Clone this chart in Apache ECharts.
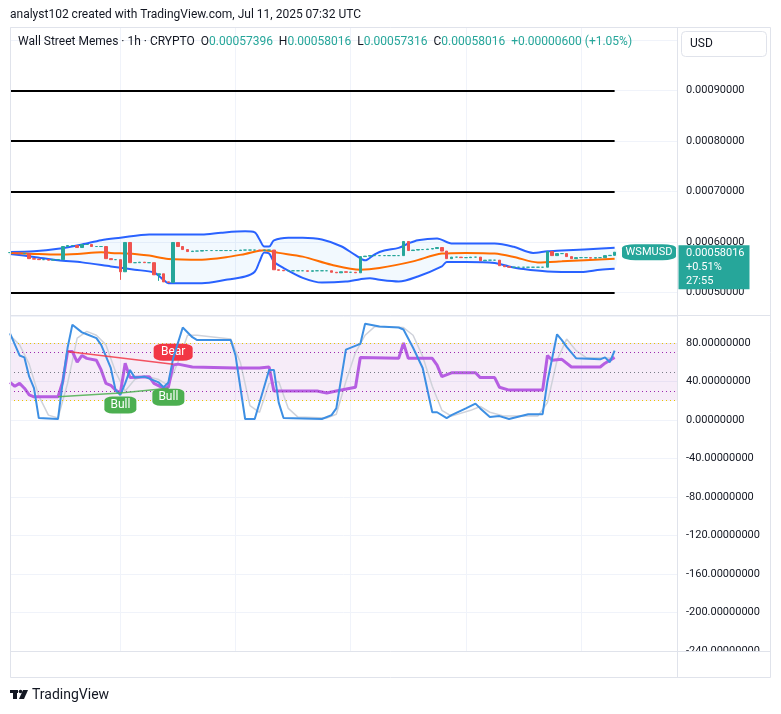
<!DOCTYPE html>
<html>
<head>
<meta charset="utf-8">
<script src="https://cdn.jsdelivr.net/npm/echarts@6/dist/echarts.min.js"></script>
<style>
  html, body { margin: 0; padding: 0; background: #fff; }
  #chart { width: 781px; height: 714px; }
</style>
</head>
<body>
<div id="chart"></div>
<script>
// hourly bars, WSM/USD, Jul 6 01:00 -> Jul 11 07:00
const closes = [
  0.0005794, 0.0005784, 0.0005774, 0.0005774, 0.0005674, 0.0005664, 0.0005654, 0.0005654, 0.0005644, 0.0005654,
  0.0005654, 0.0005914, 0.0005934, 0.0005934, 0.0005894, 0.0005954, 0.0005954, 0.0005914, 0.0005914, 0.0005914,
  0.0005674, 0.0005654, 0.0005654, 0.0005414, 0.0005994, 0.0005594, 0.0005594, 0.0005604, 0.0005594, 0.0005594,
  0.0005354, 0.0005374, 0.0005214, 0.0005204, 0.0005994, 0.0005914, 0.0005854, 0.0005814, 0.0005824, 0.0005824,
  0.0005834, 0.0005834, 0.0005834, 0.0005834, 0.0005834, 0.0005834, 0.0005834, 0.0005834, 0.0005844, 0.0005844,
  0.0005844, 0.0005844, 0.0005834, 0.0005844, 0.0005844, 0.0005454, 0.0005444, 0.0005434, 0.0005434, 0.0005434,
  0.0005434, 0.0005434, 0.0005424, 0.0005434, 0.0005434, 0.0005434, 0.0005434, 0.0005404, 0.0005394, 0.0005414,
  0.0005404, 0.0005404, 0.0005394, 0.0005714, 0.0005724, 0.0005734, 0.0005734, 0.0005734, 0.0005734, 0.0005734,
  0.0005734, 0.0005734, 0.0006014, 0.0005834, 0.0005844, 0.0005854, 0.0005854, 0.0005864, 0.0005874, 0.0005894,
  0.0005824, 0.0005674, 0.0005704, 0.0005704, 0.0005694, 0.0005694, 0.0005704, 0.0005704, 0.0005634, 0.0005644,
  0.0005644, 0.0005644, 0.0005534, 0.0005514, 0.0005504, 0.0005504, 0.0005504, 0.0005504, 0.0005504, 0.0005504,
  0.0005504, 0.0005504, 0.0005814, 0.0005734, 0.0005774, 0.0005774, 0.0005714, 0.0005674, 0.0005694, 0.0005694,
  0.0005694, 0.0005684, 0.0005694, 0.0005694, 0.0005734, 0.00057396, 0.00058016
];
const firstOpen = 0.0005794;
const wickIdx = [23, 31, 126];
const wickLow = [0.0005254, 0.0005234, 0.00057316];
const lastClose = 0.00058016;

// bollinger bands, [bar, price]
const bbUpper = [[0,0.0005808],[5,0.000582],[10,0.0005868],[15,0.0005954],[19,0.000604],[23,0.0006088],[29,0.0006154],
  [33,0.0006154],[40,0.0006154],[44,0.0006188],[49,0.0006214],[51,0.0006194],[52,0.0006054],[53,0.0005914],[54,0.0005914],
  [55,0.0006034],[58,0.0006088],[61,0.0006088],[65,0.0006054],[69,0.000592],[72,0.0005744],[74,0.000564],[76,0.000576],
  [78,0.0005834],[81,0.0005888],[83,0.0005974],[85,0.000604],[89,0.0006074],[92,0.0005974],[95,0.0005974],[101,0.0005974],
  [105,0.0005908],[109,0.0005788],[112,0.000582],[115,0.0005834],[126,0.0005888]];
const bbLower = [[0,0.0005768],[5,0.0005708],[10,0.000564],[15,0.00056],[21,0.000552],[26,0.0005454],[30,0.00054],
  [32,0.0005254],[33,0.0005188],[40,0.0005188],[45,0.0005254],[49,0.000532],[51,0.0005414],[52,0.0005614],[53,0.0005794],
  [54,0.0005774],[55,0.0005614],[57,0.0005488],[61,0.0005294],[65,0.00052],[70,0.000522],[73,0.0005268],[75,0.0005288],
  [77,0.0005254],[81,0.000522],[85,0.000532],[90,0.000552],[91,0.0005608],[95,0.0005608],[101,0.0005588],[104,0.000552],
  [107,0.0005468],[112,0.000542],[119,0.0005408],[123,0.0005454],[126,0.0005474]];
const bbMid = [[0,0.0005788],[5,0.0005768],[10,0.0005754],[14,0.0005768],[19,0.00058],[21,0.0005788],[26,0.0005768],
  [29,0.0005734],[33,0.0005668],[40,0.0005654],[45,0.00057],[49,0.0005768],[53,0.000584],[56,0.0005788],[61,0.0005714],
  [67,0.0005554],[73,0.0005454],[77,0.0005488],[84,0.000562],[90,0.0005774],[95,0.0005788],[101,0.0005774],[105,0.0005708],
  [110,0.00056],[115,0.000562],[126,0.0005674]];
const hLevels = [0.0009, 0.0008, 0.0007, 0.0005];

// lower pane, [bar, value]
const stochK = [[0,90],[2,67],[3,65],[4,45],[5,33],[6,2],[10,1],[11,40],[12,75],[13,99],[15,91],[16,89],[18,85],[19,78],
  [21,54],[22,31],[23,26],[24,38],[25,52],[26,44],[28,45],[31,39],[32,34],[33,39],[34,64],[36,96],[38,86],[39,83],[46,83],
  [47,67],[48,34],[49,1],[51,1],[54,52],[55,52],[56,18],[57,2],[65,1],[67,5],[68,12],[70,73],[73,79],[74,100],[77,97],
  [81,96],[82,94],[84,75],[86,54],[88,8],[89,8],[91,2],[92,5],[95,12],[97,17],[98,12],[100,3],[102,4],[104,1],[108,6],
  [111,6],[112,40],[114,89],[115,83],[116,76],[118,64],[123,63],[124,65],[125,60],[126,72]];
const stochD = [[0,88],[2,78],[4,58],[6,25],[8,5],[10,2],[12,38],[14,85],[16,92],[18,88],[20,78],[22,50],[24,30],[26,42],
  [28,46],[31,42],[33,36],[35,60],[37,88],[39,88],[46,84],[48,60],[50,15],[52,8],[54,38],[56,40],[58,12],[60,3],[66,2],
  [68,6],[70,40],[72,70],[74,88],[76,97],[82,96],[84,88],[86,66],[88,35],[90,10],[92,4],[96,10],[98,14],[100,8],[103,4],
  [110,4],[112,18],[114,62],[116,84],[118,72],[120,65],[126,64]];
const rsi = [[0,39],[1,35],[2,38],[3,33],[4,26],[5,24],[10,24],[11,40],[12,71],[13,71],[14,60],[15,67],[16,64],[18,62],
  [19,52],[20,38],[21,36],[22,31],[23,28],[24,59],[25,44],[29,45],[30,38],[32,33],[33,34],[34,57],[35,58],[38,55],[47,54],
  [52,54],[54,55],[55,30],[61,30],[64,30],[66,28],[68,30],[72,34],[73,65],[81,64],[82,80],[83,64],[88,64],[89,57],[90,45],
  [92,49],[97,49],[98,44],[101,44],[102,34],[104,31],[111,31],[112,67],[113,62],[115,63],[117,55],[123,55],[124,59],[126,65]];
const bearLine = [[12,71],[34,58]];
const bullLine1 = [[10,24],[23,28]];
const bullLine2 = [[23,28],[33,33]];

const priceTicks = [0.0009, 0.0008, 0.0007, 0.0006, 0.0005];
const oscTicks = [80, 40, 0, -40, -80, -120, -160, -200, -240];

// time slots (extra empty hours on the right like TradingView)
const startDay = 6, startHour = 1, slots = 140;
const categories = [];
for (let k = 0; k < slots; k++) {
  const h = startHour + k;
  categories.push((startDay + Math.floor(h / 24)) + ' ' + String(h % 24).padStart(2, '0') + ':00');
}
const isDayStart = (i) => (startHour + i) % 24 === 0;

const candles = closes.map((c, i) => {
  const o = i === 0 ? firstOpen : closes[i - 1];
  const w = wickIdx.indexOf(i);
  const lo = w >= 0 ? wickLow[w] : Math.min(o, c);
  return [o, c, lo, Math.max(o, c)];
});

const FONT = 'Roboto';
const TXT = '#131722';
const GRIDC = '#f0f3fa';
const UP = '#26a69a', DOWN = '#ef5350';

const chart = echarts.init(document.getElementById('chart'));

const xBase = {
  type: 'category',
  data: categories,
  boundaryGap: false,
  axisLine: { show: false },
  axisTick: { show: false },
  splitLine: { show: true, interval: (i) => isDayStart(i), lineStyle: { color: GRIDC } },
};

chart.setOption({
  animation: false,
  backgroundColor: '#fff',
  textStyle: { fontFamily: FONT },
  grid: [
    { left: 10, top: 27, width: 667, height: 288 },
    { left: 10, top: 316, width: 667, height: 335 },
  ],
  xAxis: [
    Object.assign({}, xBase, { gridIndex: 0, axisLabel: { show: false } }),
    Object.assign({}, xBase, {
      gridIndex: 1,
      axisLabel: {
        interval: (i) => isDayStart(i),
        formatter: (v) => v.split(' ')[0],
        color: TXT, fontSize: 12, fontFamily: FONT, margin: 6,
      },
    }),
  ],
  yAxis: [
    {
      type: 'value', gridIndex: 0, position: 'right',
      min: 0.0004558, max: 0.0010261,
      axisLine: { show: false }, axisTick: { show: false },
      splitLine: { lineStyle: { color: GRIDC } },
      axisLabel: {
        customValues: priceTicks, formatter: (v) => v.toFixed(8),
        color: TXT, fontSize: 11, fontFamily: FONT, margin: 9,
      },
    },
    {
      type: 'value', gridIndex: 1, position: 'right',
      min: -240, max: 108, interval: 40,
      axisLine: { show: false }, axisTick: { show: false },
      splitLine: { lineStyle: { color: GRIDC } },
      axisLabel: {
        customValues: oscTicks, formatter: (v) => v.toFixed(8),
        color: TXT, fontSize: 11, fontFamily: FONT, margin: 9,
      },
    },
  ],
  series: [
    {
      type: 'custom', name: 'bbFill', xAxisIndex: 0, yAxisIndex: 0,
      data: [[0, 0]], silent: true, z: 1,
      renderItem: (params, api) => {
        const pts = bbUpper.map((p) => api.coord(p))
          .concat(bbLower.slice().reverse().map((p) => api.coord(p)));
        return { type: 'polygon', shape: { points: pts, smooth: 0.3 }, style: { fill: 'rgba(33,150,243,0.06)' } };
      },
    },
    {
      type: 'line', name: 'upper', xAxisIndex: 0, yAxisIndex: 0, data: bbUpper,
      smooth: 0.3, showSymbol: false, lineStyle: { color: '#2962ff', width: 2 }, z: 3,
    },
    {
      type: 'line', name: 'lower', xAxisIndex: 0, yAxisIndex: 0, data: bbLower,
      smooth: 0.3, showSymbol: false, lineStyle: { color: '#2962ff', width: 2 }, z: 3,
    },
    {
      type: 'line', name: 'basis', xAxisIndex: 0, yAxisIndex: 0, data: bbMid,
      smooth: 0.3, showSymbol: false, lineStyle: { color: '#ff6d00', width: 2 }, z: 3,
    },
    {
      type: 'candlestick', name: 'WSMUSD', xAxisIndex: 0, yAxisIndex: 0,
      data: candles, barWidth: 3, z: 4,
      itemStyle: { color: UP, color0: DOWN, borderColor: UP, borderColor0: DOWN, borderWidth: 1 },
      markLine: {
        silent: true, symbol: 'none', label: { show: false },
        data: hLevels.map((v) => [
          { coord: [0, v], lineStyle: { color: '#000', width: 2, type: 'solid' } },
          { coord: [closes.length - 1, v] },
        ]).concat([{ yAxis: lastClose, lineStyle: { color: UP, width: 1, type: [1, 3] } }]),
      },
      markPoint: {
        silent: true,
        data: [
          {
            coord: [slots - 1, lastClose], symbol: 'roundRect', symbolSize: [54, 16], symbolOffset: [-28, 0],
            itemStyle: { color: UP },
            label: { show: true, formatter: 'WSMUSD', color: '#fff', fontSize: 11, fontFamily: FONT },
          },
          {
            coord: [slots - 1, lastClose], symbol: 'rect', symbolSize: [71, 44], symbolOffset: [37, 15],
            itemStyle: { color: UP },
            label: {
              show: true, position: 'inside', align: 'left', offset: [-28, 0],
              formatter: lastClose.toFixed(8) + '\n+0.51%\n27:55',
              color: '#fff', fontSize: 11, lineHeight: 14, fontFamily: FONT,
            },
          },
        ],
      },
    },
    {
      type: 'line', name: 'RSI', xAxisIndex: 1, yAxisIndex: 1, data: rsi,
      showSymbol: false, lineStyle: { color: '#b65ee2', width: 3 }, z: 4,
      markArea: {
        silent: true, itemStyle: { color: 'rgba(156,39,176,0.09)' },
        data: [[{ yAxis: 80 }, { yAxis: 20 }]],
      },
      markLine: {
        silent: true, symbol: 'none', label: { show: false },
        data: [
          { yAxis: 80, lineStyle: { color: '#e8c400', width: 1, type: [1, 3] } },
          { yAxis: 70, lineStyle: { color: '#9c27b0', width: 1, type: [1, 3] } },
          { yAxis: 50, lineStyle: { color: '#787b86', width: 1, type: [1, 3] } },
          { yAxis: 30, lineStyle: { color: '#9c27b0', width: 1, type: [1, 3] } },
          { yAxis: 20, lineStyle: { color: '#e8c400', width: 1, type: [1, 3] } },
        ],
      },
    },
    {
      type: 'line', name: '%D', xAxisIndex: 1, yAxisIndex: 1, data: stochD,
      showSymbol: false, lineStyle: { color: '#cfd2da', width: 1.5 }, z: 3,
    },
    {
      type: 'line', name: '%K', xAxisIndex: 1, yAxisIndex: 1, data: stochK,
      showSymbol: false, lineStyle: { color: '#3d8fe3', width: 2 }, z: 5,
    },
    {
      type: 'line', name: 'bear', xAxisIndex: 1, yAxisIndex: 1, data: bearLine,
      showSymbol: false, lineStyle: { color: '#f23645', width: 1.5, opacity: 0.85 }, z: 6,
      markPoint: {
        silent: true, symbol: 'roundRect', symbolSize: [39, 17],
        data: [{ coord: bearLine[1], symbolOffset: [0, -12] }],
        itemStyle: { color: '#f23645' },
        label: { show: true, formatter: 'Bear', color: '#fff', fontSize: 12, fontFamily: FONT },
      },
    },
    {
      type: 'line', name: 'bull1', xAxisIndex: 1, yAxisIndex: 1, data: bullLine1,
      showSymbol: false, lineStyle: { color: '#4caf50', width: 1.5, opacity: 0.85 }, z: 6,
      markPoint: {
        silent: true, symbol: 'roundRect', symbolSize: [32, 17],
        data: [{ coord: bullLine1[1], symbolOffset: [0, 12] }],
        itemStyle: { color: '#4caf50' },
        label: { show: true, formatter: 'Bull', color: '#fff', fontSize: 12, fontFamily: FONT },
      },
    },
    {
      type: 'line', name: 'bull2', xAxisIndex: 1, yAxisIndex: 1, data: bullLine2,
      showSymbol: false, lineStyle: { color: '#4caf50', width: 1.5, opacity: 0.85 }, z: 6,
      markPoint: {
        silent: true, symbol: 'roundRect', symbolSize: [32, 17],
        data: [{ coord: bullLine2[1], symbolOffset: [0, 9] }],
        itemStyle: { color: '#4caf50' },
        label: { show: true, formatter: 'Bull', color: '#fff', fontSize: 12, fontFamily: FONT },
      },
    },
  ],
  graphic: [
    // panel frame and separators
    { type: 'rect', z: 50, silent: true, shape: { x: 0, y: 651.5, width: 781, height: 30 }, style: { fill: '#fff' } },
    { type: 'rect', z: 51, silent: true, shape: { x: 10.5, y: 27.5, width: 760, height: 650 }, style: { fill: 'none', stroke: '#e0e3eb', lineWidth: 1 } },
    { type: 'line', z: 51, silent: true, shape: { x1: 10, y1: 315.5, x2: 771, y2: 315.5 }, style: { stroke: '#e0e3eb', lineWidth: 1 } },
    { type: 'line', z: 51, silent: true, shape: { x1: 10, y1: 651.5, x2: 771, y2: 651.5 }, style: { stroke: '#e0e3eb', lineWidth: 1 } },
    { type: 'line', z: 51, silent: true, shape: { x1: 677.5, y1: 27, x2: 677.5, y2: 678 }, style: { stroke: '#e0e3eb', lineWidth: 1 } },
    { type: 'rect', z: 51, silent: true, shape: { x: 681.5, y: 31.5, width: 85, height: 25, r: 4 }, style: { fill: '#fff', stroke: '#e0e3eb' } },
    { type: 'text', z: 52, silent: true, x: 690, y: 44, style: { text: 'USD', fill: TXT, font: '12px ' + FONT, verticalAlign: 'middle' } },
    // captions
    { type: 'text', z: 52, silent: true, x: 10, y: 15, style: { text: 'analyst102 created with TradingView.com, Jul 11, 2025 07:32 UTC', fill: TXT, font: '12px ' + FONT, verticalAlign: 'middle' } },
    {
      type: 'text', z: 52, silent: true, x: 18, y: 42,
      style: {
        text: '{n|Wall Street Memes · 1h · CRYPTO}  {n|O}{v|0.00057396}  {n|H}{v|0.00058016}  {n|L}{v|0.00057316}  {n|C}{v|0.00058016}  {v|+0.00000600 (+1.05%)}',
        font: '12px ' + FONT, verticalAlign: 'middle',
        rich: { n: { fill: TXT, font: '12px ' + FONT }, v: { fill: UP, font: '12px ' + FONT } },
      },
    },
    // TradingView mark
    { type: 'rect', z: 52, silent: true, shape: { x: 10, y: 690, width: 8, height: 3 }, style: { fill: '#131722' } },
    { type: 'rect', z: 52, silent: true, shape: { x: 13, y: 690, width: 4, height: 9 }, style: { fill: '#131722' } },
    { type: 'circle', z: 52, silent: true, shape: { cx: 20.5, cy: 691.5, r: 1.8 }, style: { fill: '#131722' } },
    { type: 'polygon', z: 52, silent: true, shape: { points: [[23, 690], [28, 690], [24, 699], [19, 699]] }, style: { fill: '#131722' } },
    { type: 'text', z: 52, silent: true, x: 32, y: 695, style: { text: 'TradingView', fill: '#131722', font: '14px ' + FONT, verticalAlign: 'middle' } },
  ],
});
</script>
</body>
</html>
